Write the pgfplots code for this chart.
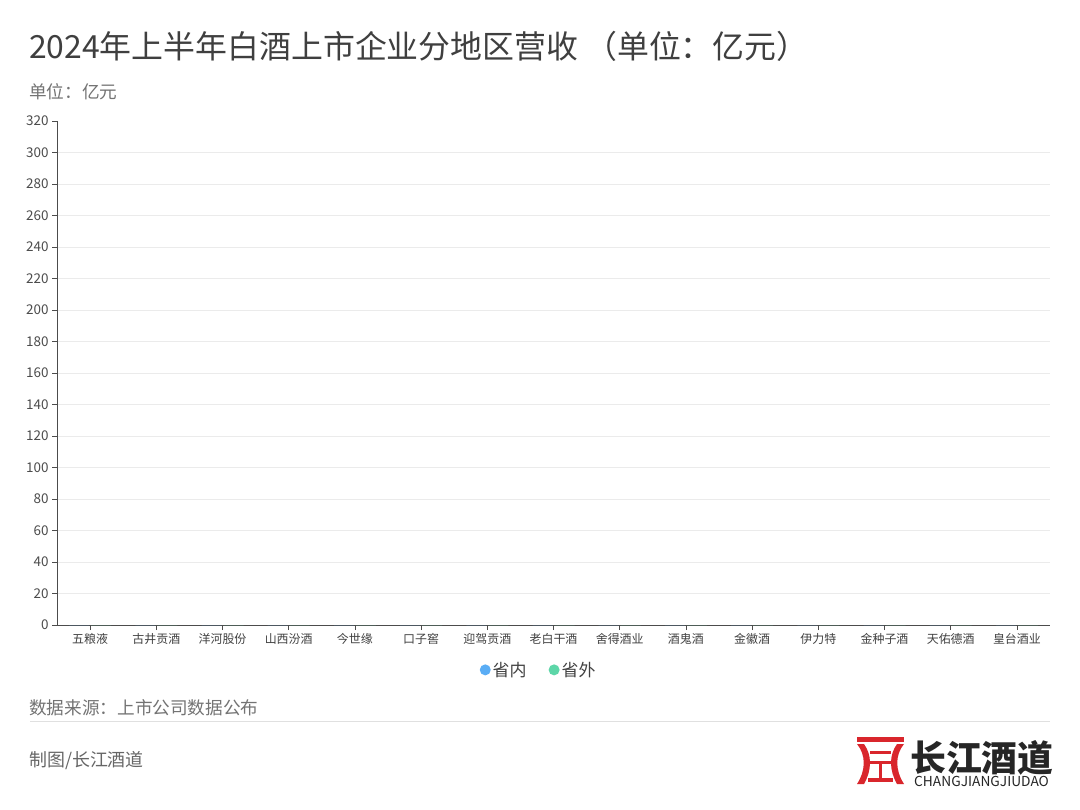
\documentclass[border=0pt]{standalone}
\usepackage{fontspec}
\setmainfont{Noto Sans CJK SC}
\usepackage{pgfplots}
\pgfplotsset{compat=1.18}
\definecolor{cin}{HTML}{5AADF5}
\definecolor{cout}{HTML}{5DD6A8}
\definecolor{logored}{HTML}{D9262C}
\definecolor{titlec}{HTML}{3F3F3F}
\begin{document}
\begin{tikzpicture}
\begin{scope}[x=1bp,y=1bp]
\fill[white] (0,0) rectangle (1080,-810);
\node[anchor=west, inner sep=0, font=\fontsize{32}{32}\selectfont, text=titlec] at (29,-46) {2024年上半年白酒上市企业分地区营收 （单位：亿元）};
\node[anchor=west, inner sep=0, font=\fontsize{17.7}{17.7}\selectfont, text=black!55] at (29,-92) {单位：亿元};
\node[anchor=west, inner sep=0, font=\fontsize{17.7}{17.7}\selectfont, text=black!55] at (29,-708) {数据来源：上市公司数据公布};
\draw[black!12, line width=1bp] (30,-721) -- (1050,-721);
\node[anchor=west, inner sep=0, font=\fontsize{18}{18}\selectfont, text=black!60] at (29,-761) {制图/长江酒道};
\begin{scope}[logored]
\fill (857,-737) rectangle (904,-742);
\fill (857,-744) .. controls (866,-755) and (866,-770) .. (857,-784) -- (864,-784) .. controls (872,-770) and (872,-755) .. (864,-744) -- cycle;
\fill (904,-744) .. controls (895,-755) and (895,-770) .. (904,-784) -- (897,-784) .. controls (889,-770) and (889,-755) .. (897,-744) -- cycle;
\fill (870,-751) rectangle (891,-754);
\fill (870,-761) rectangle (891,-764);
\fill (879,-764) rectangle (882,-778);
\fill (868,-778) rectangle (893,-782);
\end{scope}
\node[anchor=west, inner sep=0, font=\fontsize{36}{36}\selectfont\bfseries, text=black!85] at (910,-758) {长江酒道};
\node[anchor=west, inner sep=0, font=\fontsize{13.8}{13.8}\selectfont, text=black!85] at (914,-781) {CHANGJIANGJIUDAO};
\end{scope}
\begin{axis}[
  at={(57bp,-625bp)}, anchor=south west,
  width=993bp, height=504bp, scale only axis,
  xmin=-0.5, xmax=14.5, ymin=0, ymax=320,
  ybar, bar width=20bp,
  xtick={0,...,14},
  xticklabels={五粮液,古井贡酒,洋河股份,山西汾酒,今世缘,口子窖,迎驾贡酒,老白干酒,舍得酒业,酒鬼酒,金徽酒,伊力特,金种子酒,天佑德酒,皇台酒业},
  ytick={0,20,...,300}, extra y ticks={320}, extra y tick style={grid=none},
  ymajorgrids, major grid style={draw=black!8, line width=0.8bp},
  axis lines*=left,
  axis line style={draw=black!70, line width=0.9bp},
  tick style={draw=black!70, line width=0.8bp}, major tick length=5bp, tick align=outside,
  /pgf/number format/assume math mode=true,
  yticklabel style={font=\fontsize{13.5}{13.5}\selectfont, text=black!70},
  xticklabel style={font=\fontsize{12}{12}\selectfont, text=black!75},
  legend style={at={(0.485,-0.089)}, anchor=center, draw=none, fill=none, legend columns=2,
    font=\fontsize{17}{17}\selectfont, text=black!75,
    /tikz/every even column/.append style={column sep=20bp}},
  legend image code/.code={\fill[#1] (1bp,0bp) circle (5.5bp);},
]
\addplot[draw=none, fill=cin] coordinates {(0,0) (1,0) (2,0) (3,0) (4,0) (5,0) (6,0) (7,0) (8,0) (9,0) (10,0) (11,0) (12,0) (13,0) (14,0)};
\addplot[draw=none, fill=cout] coordinates {(0,0) (1,0) (2,0) (3,0) (4,0) (5,0) (6,0) (7,0) (8,0) (9,0) (10,0) (11,0) (12,0) (13,0) (14,0)};
\legend{省内,省外}
\end{axis}
\end{tikzpicture}
\end{document}
